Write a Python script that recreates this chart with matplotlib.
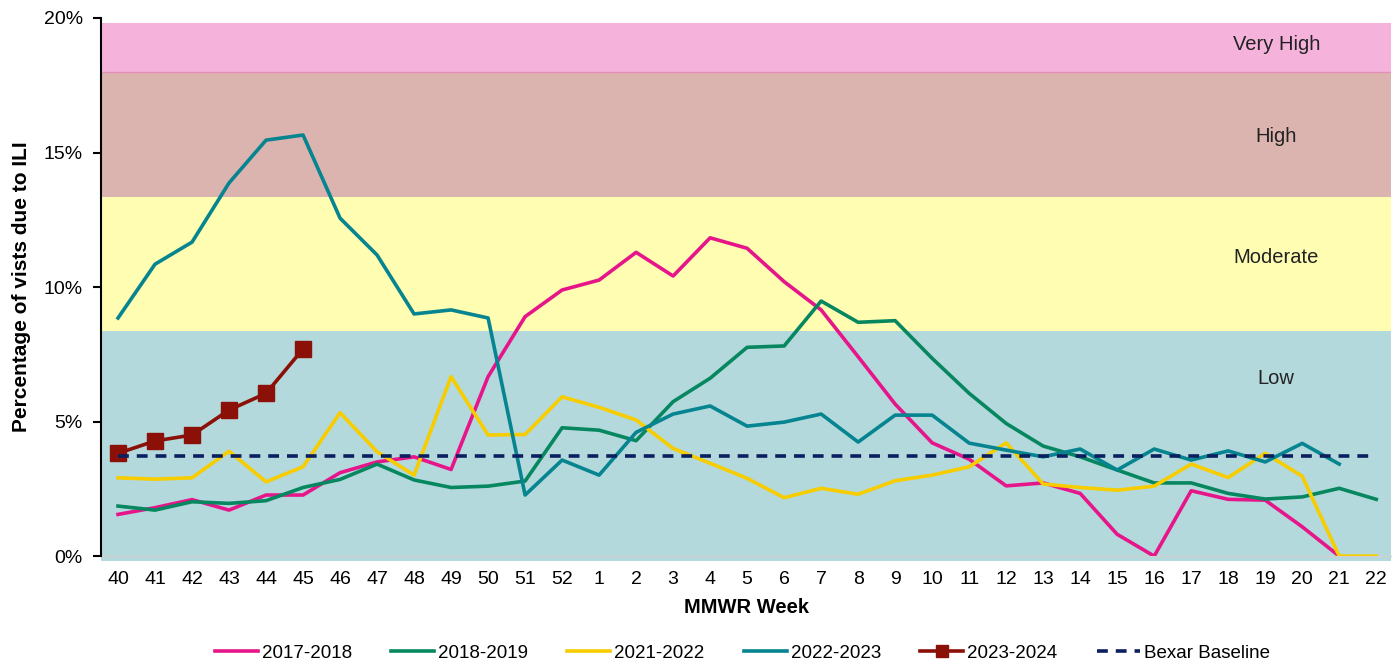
import numpy as np
import matplotlib.pyplot as plt

plt.rcParams['font.family'] = ['Liberation Sans', 'DejaVu Sans']

weeks = [40, 41, 42, 43, 44, 45, 46, 47, 48, 49, 50, 51, 52,
         1, 2, 3, 4, 5, 6, 7, 8, 9, 10, 11, 12, 13, 14, 15, 16, 17, 18, 19, 20, 21, 22]

# percentages
s2017 = [1.55, 1.80, 2.10, 1.71, 2.27, 2.27, 3.10, 3.50, 3.69, 3.22, 6.67, 8.90, 9.89,
         10.26, 11.29, 10.41, 11.83, 11.44, 10.20, 9.15, 7.41, 5.65, 4.21, 3.60, 2.61,
         2.72, 2.33, 0.81, 0.00, 2.43, 2.11, 2.08, 1.09, 0.00]
s2018 = [1.86, 1.71, 2.02, 1.96, 2.06, 2.55, 2.85, 3.42, 2.83, 2.55, 2.60, 2.79, 4.77,
         4.68, 4.29, 5.74, 6.61, 7.76, 7.81, 9.48, 8.69, 8.75, 7.35, 6.05, 4.93,
         4.09, 3.69, 3.20, 2.72, 2.72, 2.33, 2.12, 2.20, 2.52, 2.11]
s2021 = [2.91, 2.86, 2.91, 3.90, 2.76, 3.32, 5.33, 3.88, 3.01, 6.67, 4.50, 4.52, 5.92,
         5.53, 5.06, 4.00, 3.45, 2.89, 2.17, 2.52, 2.30, 2.80, 3.01, 3.32, 4.21,
         2.68, 2.55, 2.45, 2.60, 3.42, 2.92, 3.82, 2.97, 0.00, 0.00]
s2022 = [8.85, 10.85, 11.67, 13.87, 15.46, 15.65, 12.56, 11.19, 9.00, 9.15, 8.85, 2.27, 3.57,
         3.01, 4.60, 5.28, 5.58, 4.83, 4.98, 5.28, 4.24, 5.24, 5.24, 4.20, 3.94,
         3.69, 3.98, 3.20, 3.98, 3.57, 3.91, 3.50, 4.19, 3.42]
s2023 = [3.82, 4.28, 4.50, 5.43, 6.05, 7.70]
baseline = 3.72

bands = [(-0.2, 8.36, '#b3d9dd', 'Low', 6.6),
         (8.36, 13.35, '#fffdb1', 'Moderate', 11.1),
         (13.35, 18.0, '#dbb4b0', 'High', 15.6),
         (18.0, 19.8, '#f5b3dc', 'Very High', 19.0)]

fig = plt.figure(figsize=(13.99, 6.66), dpi=100)
ax = fig.add_axes([0.0722, 0.165, 0.9221, 0.808])

x = np.arange(len(weeks))
for lo, hi, col, name, ty in bands:
    r = ax.axhspan(lo, hi, color=col, lw=0, zorder=0)
    r.set_clip_on(False)
    ax.text(31.3, ty, name, ha='center', va='center', fontsize=14.5, color='#222222')
ax.axhline(18.0, color='#e58fb6', lw=1, zorder=0.5)

lw = 2.6
ax.plot(x[:len(s2017)], s2017, color='#e6168a', lw=lw, label='2017-2018', zorder=3)
ax.plot(x[:len(s2018)], s2018, color='#07875f', lw=lw, label='2018-2019', zorder=3)
ax.plot(x[:len(s2021)], s2021, color='#f7cd00', lw=lw, label='2021-2022', zorder=3)
ax.plot(x[:len(s2022)], s2022, color='#06848f', lw=lw, label='2022-2023', zorder=3)
ax.plot(x[:len(s2023)], s2023, color='#8b1007', lw=lw, marker='s', ms=11,
        label='2023-2024', zorder=4)
ax.plot(x, [baseline] * len(x), color='#0b1f5e', lw=2.6, ls=(0, (3, 2.2)),
        label='Bexar Baseline', zorder=5)

ax.set_xlim(-0.46, 34.4)
ax.set_ylim(0, 20)
ax.set_yticks([0, 5, 10, 15, 20])
ax.set_yticklabels(['0%', '5%', '10%', '15%', '20%'], fontsize=14)
ax.set_xticks(x)
ax.set_xticklabels([str(w) for w in weeks], fontsize=14)
ax.tick_params(axis='x', length=0, pad=11)
ax.tick_params(axis='y', length=6, width=1.5, direction='out', pad=7)

for s in ['top', 'right']:
    ax.spines[s].set_visible(False)
ax.spines['left'].set_linewidth(1.5)
ax.spines['bottom'].set_color('#d0d0d0')
ax.spines['bottom'].set_linewidth(1)
ax.spines['bottom'].set_zorder(1)

ax.set_xlabel('MMWR Week', fontsize=14.5, fontweight='bold', labelpad=7)
ax.set_ylabel('Percentage of vists due to ILI', fontsize=15, fontweight='bold', labelpad=9)

ax.legend(loc='center', bbox_to_anchor=(0.497, -0.18), ncol=6, frameon=False,
          fontsize=13.5, handlelength=2.3, columnspacing=2.1, handletextpad=0.2,
          markerscale=0.85)

fig.savefig('out.png', dpi=100)
